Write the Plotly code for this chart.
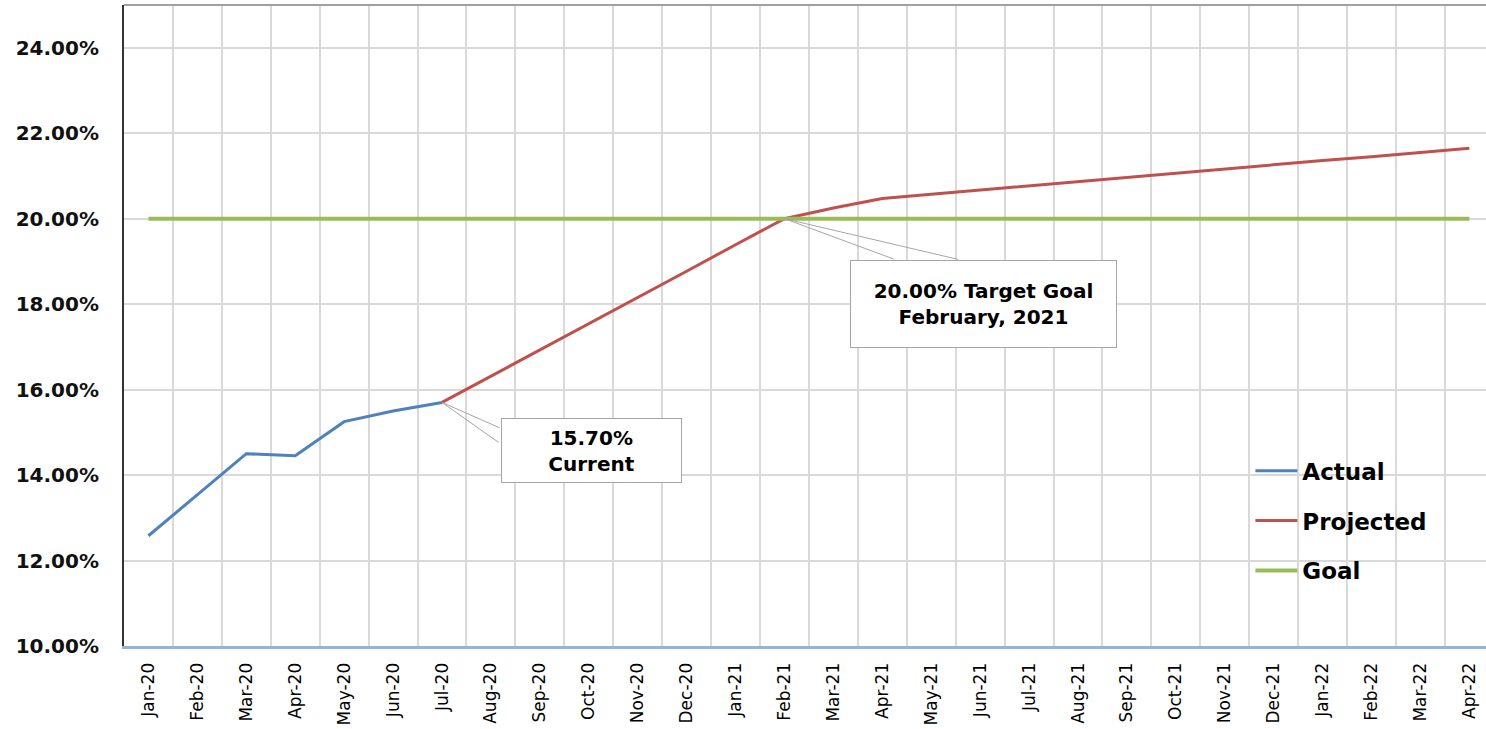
import plotly.graph_objects as go

months = [
    "Jan-20", "Feb-20", "Mar-20", "Apr-20", "May-20", "Jun-20", "Jul-20",
    "Aug-20", "Sep-20", "Oct-20", "Nov-20", "Dec-20", "Jan-21", "Feb-21",
    "Mar-21", "Apr-21", "May-21", "Jun-21", "Jul-21", "Aug-21", "Sep-21",
    "Oct-21", "Nov-21", "Dec-21", "Jan-22", "Feb-22", "Mar-22", "Apr-22",
]
actual = [12.58, 13.55, 14.50, 14.45, 15.25, 15.50, 15.70] + [None] * 21
projected = [None] * 6 + [
    15.70, 16.31, 16.93, 17.54, 18.16, 18.77, 19.39, 20.00,
    20.25, 20.47, 20.57, 20.67, 20.77, 20.87, 20.96, 21.06,
    21.16, 21.26, 21.36, 21.45, 21.55, 21.65,
]
goal = [20.00] * 28
y_ticks = [10, 12, 14, 16, 18, 20, 22, 24]

_FONT = "DejaVu Sans"
_GRID = "#D9D9D9"
_CALLOUT = "#A6A6A6"

fig = go.Figure()
for name, vals, color, width in [
    ("Actual", actual, "#4F81BD", 3),
    ("Projected", projected, "#C0504D", 3),
    ("Goal", goal, "#9BBB59", 4),
]:
    fig.add_trace(go.Scatter(
        x=months, y=vals, name=name, mode="lines",
        line=dict(color=color, width=width),
        legendgroup=name,
        connectgaps=False,
    ))


def wedge(x, y, ax, ay):
    return dict(
        x=x, y=y, xref="x", yref="y", ax=ax, ay=ay, text="",
        showarrow=True, arrowhead=0, arrowwidth=1, arrowcolor=_CALLOUT,
        standoff=0, startstandoff=0, font=dict(size=1),
    )


def callout(x, y, text, dx, dy, w, h):
    return dict(
        x=x, y=y, xref="x", yref="y", text=text, showarrow=False,
        xshift=dx, yshift=dy, width=w, height=h, align="center",
        valign="middle", bgcolor="white", bordercolor=_CALLOUT,
        borderwidth=1, borderpad=0,
        font=dict(family=_FONT, size=20, color="#000000", weight="bold"),
    )


annotations = [
    wedge("Jul-20", 15.70, 59, 26),
    wedge("Jul-20", 15.70, 58, 41),
    callout("Jul-20", 15.70, "15.70%<br>Current", 149.5, -48, 179, 63),
    wedge("Feb-21", 20.00, 111, 41),
    wedge("Feb-21", 20.00, 175, 41),
    callout("Feb-21", 20.00, "20.00% Target Goal<br>February, 2021", 199.5, -85, 265, 86),
]

fig.update_layout(
    width=1486,
    height=729,
    plot_bgcolor="white",
    paper_bgcolor="white",
    margin=dict(l=124, r=0, t=5, b=83),
    showlegend=True,
    legend=dict(
        x=0.827, y=0.307, xanchor="left", yanchor="top",
        bgcolor="rgba(0,0,0,0)", tracegroupgap=17, itemwidth=42,
        font=dict(family=_FONT, size=23, color="#000000", weight="bold"),
    ),
    xaxis=dict(
        type="category",
        range=[-0.5, 27.34],
        tickson="boundaries",
        ticks="",
        tickangle=-90,
        automargin=False,
        showgrid=True, gridcolor=_GRID, gridwidth=2,
        showline=True, linecolor="#95B3D7", linewidth=3,
        tickfont=dict(family=_FONT, size=17, color="#000000"),
        ticklabelstandoff=7,
    ),
    yaxis=dict(
        range=[10, 25],
        tickvals=y_ticks,
        ticktext=[f"{v:.2f}%" for v in y_ticks],
        automargin=False,
        showgrid=True, gridcolor=_GRID, gridwidth=2,
        zeroline=False,
        showline=True, linecolor="#333333", linewidth=2,
        ticks="",
        tickfont=dict(family=_FONT, size=20, color="#111111", weight="bold"),
        ticklabelstandoff=19,
    ),
    shapes=[dict(
        type="line", xref="paper", yref="paper", x0=0, x1=1, y0=1, y1=1,
        line=dict(color="#A0A0A0", width=2),
    )],
    annotations=annotations,
)

# page body has a default 8px margin; drop it so the chart sits at the window edge
fig.write_html(
    "out.html",
    config={"displayModeBar": False},
    post_script="document.body.style.margin='0';",
)
